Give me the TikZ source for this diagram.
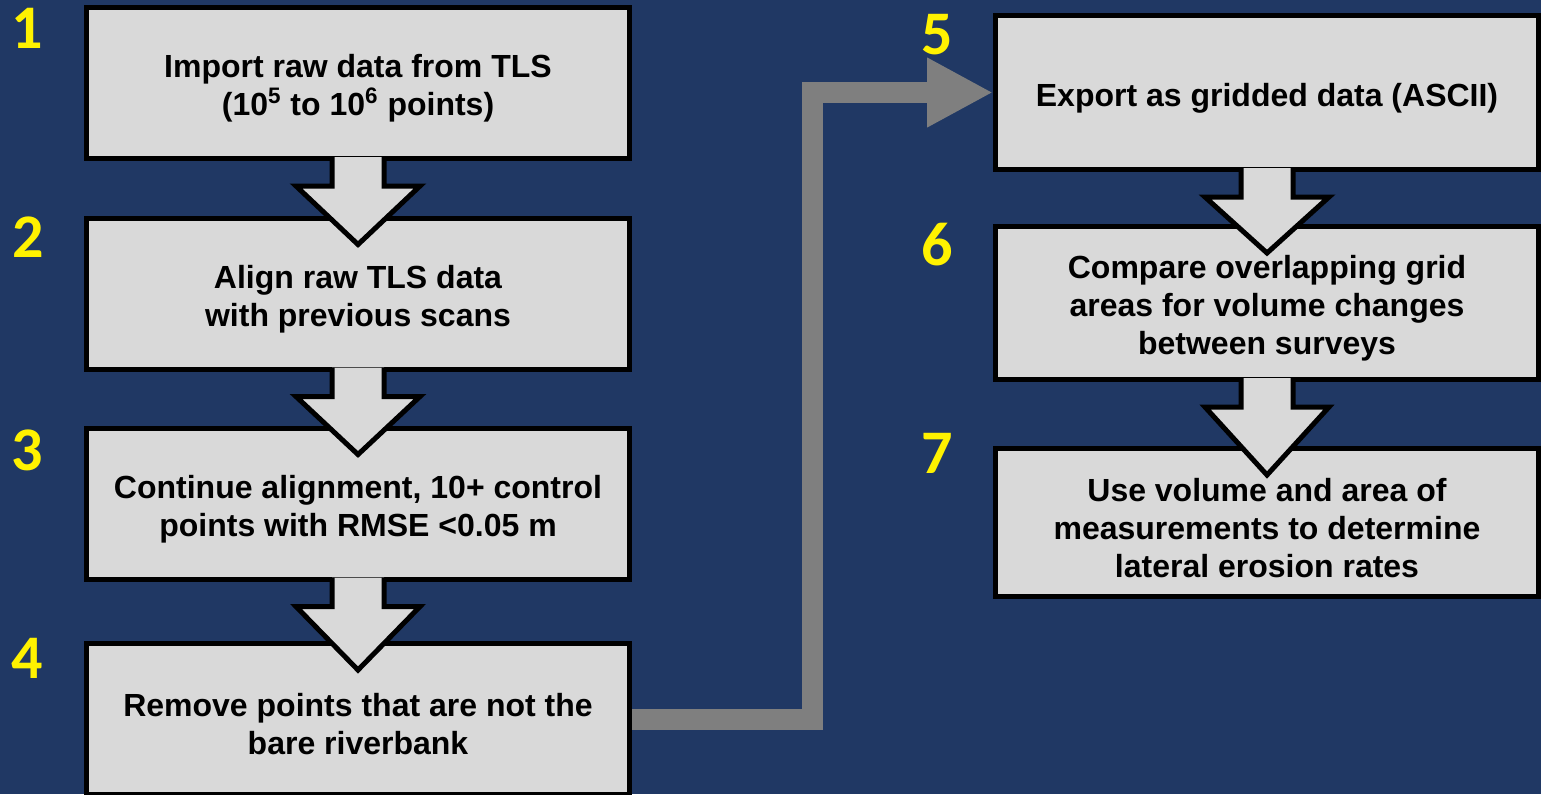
\documentclass[tikz,border=0pt]{standalone}
\usepackage{fontspec}
\setmainfont{Liberation Sans}
\newfontfamily\stepfont{Carlito}
\usetikzlibrary{arrows.meta}

\definecolor{navy}{RGB}{32,56,100}
\definecolor{boxgray}{RGB}{217,217,217}
\definecolor{linkgray}{RGB}{127,127,127}

% strut that pushes the first line of a box a little down
\newcommand\boxstrut{\rule{0pt}{17pt}}

\tikzset{
    stepbox/.style={draw=black, line width=2.5pt, fill=boxgray, inner sep=0pt,
        minimum width=271.5pt, minimum height=75.5pt, align=center,
        font=\bfseries\fontsize{16}{19}\selectfont},
    stepnum/.style={text=yellow, inner sep=0pt,
        font=\stepfont\bfseries\fontsize{31}{31}\selectfont},
    downarrow/.style={draw=black, line width=2.5pt, fill=boxgray, line join=miter},
    flowline/.style={draw=linkgray, line width=10.5pt,
        -{Triangle[length=33pt, width=32.5pt]}}
}

\begin{document}
\begin{tikzpicture}[x=0.5pt, y=-0.5pt]
    % Background
    \useasboundingbox (0,0) rectangle (1541,794);
    \fill[navy] (0,0) rectangle (1541,794);

    % Left column
    \node[stepbox] (s1) at (358,83) {\boxstrut Import raw data from TLS\\(10\textsuperscript{5} to 10\textsuperscript{6} points)};
    \node[stepbox] (s2) at (358,293.5) {\boxstrut Align raw TLS data\\with previous scans};
    \node[stepbox] (s3) at (358,503.5) {\boxstrut Continue alignment, 10+ control\\points with RMSE <0.05 m};
    \node[stepbox] (s4) at (358,719) {\boxstrut Remove points that are not the\\bare riverbank};

    % Right column
    \node[stepbox, minimum height=77pt] (s5) at (1267,92.5) {\boxstrut Export as gridded data (ASCII)};
    \node[stepbox, minimum height=76.5pt] (s6) at (1267,303) {\boxstrut Compare overlapping grid\\areas for volume changes\\between surveys};
    \node[stepbox, minimum height=74pt] (s7) at (1267,522.5) {\boxstrut Use volume and area of\\measurements to determine\\lateral erosion rates};

    % Block arrows between steps
    \foreach \a/\b in {s1/s2, s2/s3, s3/s4, s5/s6, s6/s7} {
        \filldraw[downarrow] ([xshift=-13pt,yshift=2pt]\a.south) -- ++(0,-14.5pt) -- ++(-18pt,0)
            -- ([yshift=-14.5pt]\b.north) -- ([xshift=31pt,yshift=-12.5pt]\a.south)
            -- ++(-18pt,0) -- ++(0,14.5pt);
    }

    % Link from step 4 to step 5
    \coordinate (bend) at (812,400);
    \draw[flowline] (s4.east) -| (bend) |- (s5.west);

    % Step numbers
    \node[stepnum] (n1) at (27,28) {1};
    \node[stepnum] (n2) at (28,237) {2};
    \node[stepnum] (n3) at (27,450) {3};
    \node[stepnum] (n4) at (27,658) {4};
    \node[stepnum] (n5) at (937,35) {5};
    \node[stepnum] (n6) at (937,245) {6};
    \node[stepnum] (n7) at (937,453) {7};
\end{tikzpicture}
\end{document}
